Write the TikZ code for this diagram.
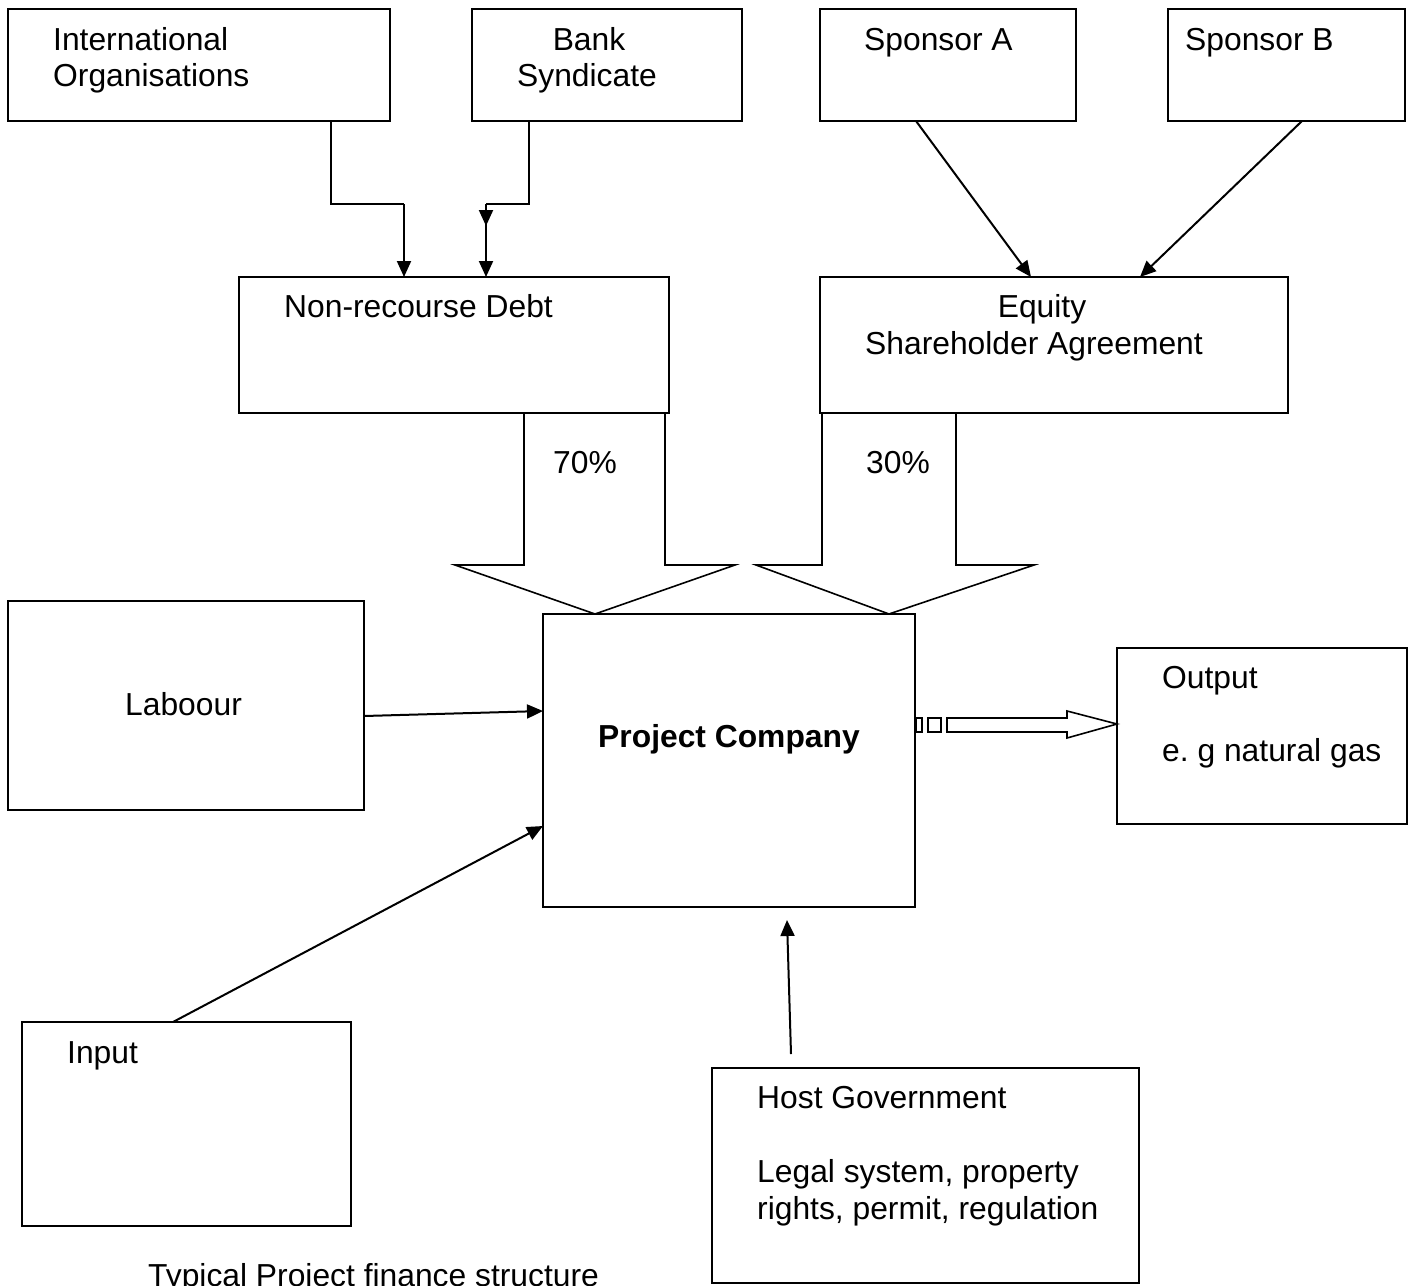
\documentclass[tikz,border=0pt]{standalone}
\usepackage{fontspec}
\setmainfont{Liberation Sans}
\usetikzlibrary{arrows.meta,calc}
\frenchspacing
\begin{document}
\begin{tikzpicture}[x=1pt,y=-1pt,
  box/.style={draw,line width=2pt,rectangle,inner sep=0pt,outer sep=0pt,anchor=north west},
  txt/.style={anchor=base west,inner sep=0pt,font=\fontsize{31.8}{37}\selectfont},
  ctxt/.style={anchor=base,inner sep=0pt,font=\fontsize{31.8}{37}\selectfont},
  arr/.style={line width=2pt,-{Triangle[length=16pt,width=14pt]}},
  blk/.style={line width=1.6pt,line join=miter}]
\useasboundingbox (0,0) rectangle (1413,1285);
\fill[white] (0,0) rectangle (1413,1285);
% boxes
\node[box,minimum width=382pt,minimum height=112pt] (io) at (8,9) {};
\node[box,minimum width=270pt,minimum height=112pt] (bs) at (472,9) {};
\node[box,minimum width=256pt,minimum height=112pt] (sa) at (820,9) {};
\node[box,minimum width=237pt,minimum height=112pt] (sb) at (1168,9) {};
\node[box,minimum width=430pt,minimum height=136pt] (nrd) at (239,277) {};
\node[box,minimum width=468pt,minimum height=136pt] (eq) at (820,277) {};
\node[box,minimum width=372pt,minimum height=293pt] (pc) at (543,614) {};
\node[box,minimum width=356pt,minimum height=209pt] (lab) at (8,601) {};
\node[box,minimum width=290pt,minimum height=176pt] (out) at (1117,648) {};
\node[box,minimum width=329pt,minimum height=204pt] (inp) at (22,1022) {};
\node[box,minimum width=427pt,minimum height=215pt] (host) at (712,1068) {};
% texts
\node[txt] (t1) at (53,50) {International};
\node[txt] (t2) at (53,86) {Organisations};
\node[ctxt] (t3) at (589,50) {Bank};
\node[ctxt] (t4) at (587,86) {Syndicate};
\node[txt] (t5) at (864,50) {Sponsor A};
\node[txt] (t6) at (1185,50) {Sponsor B};
\node[txt] (t7) at (284,317) {Non-recourse Debt};
\node[ctxt] (t8) at (1042,317) {Equity};
\node[ctxt] (t9) at (1034,354) {Shareholder Agreement};
\node[txt] (t10) at (553,473) {70\%};
\node[txt] (t11) at (866,473) {30\%};
\node[ctxt,font=\fontsize{31.8}{37}\selectfont\bfseries] (t12) at (729,747) {Project Company};
\node[txt] (t13) at (125,715) {Laboour};
\node[txt] (t14) at (1162,688) {Output};
\node[txt] (t15) at (1162,761) {e. g natural gas};
\node[txt] (t16) at (67,1063) {Input};
\node[txt] (t17) at (757,1108) {Host Government};
\node[txt] (t18) at (757,1182) {Legal system, property};
\node[txt] (t19) at (757,1219) {rights, permit, regulation};
\node[txt] (cap) at (148,1286) {Typical Project finance structure};
% connectors to debt
\draw[line width=2pt] ([xshift=323pt]io.south west) |- ([xshift=165pt,yshift=73pt]nrd.north west);
\draw[arr] ([xshift=165pt,yshift=73pt]nrd.north west) -- ([xshift=165pt]nrd.north west);
\draw[line width=2pt] ([xshift=57pt]bs.south west) |- ([xshift=247pt,yshift=73pt]nrd.north west);
\draw[arr] ([xshift=247pt,yshift=73pt]nrd.north west) -- ([xshift=247pt,yshift=51pt]nrd.north west);
\draw[arr] ([xshift=247pt,yshift=73pt]nrd.north west) -- ([xshift=247pt]nrd.north west);
% connectors to equity
\draw[arr] ([xshift=96pt]sa.south west) -- ([xshift=211pt]eq.north west);
\draw[arr] ([xshift=134pt]sb.south west) -- ([xshift=320pt]eq.north west);
% block arrows
\draw[blk] (524,413) -- (524,565) -- (455,565) -- (595,614) -- (735,565) -- (665,565) -- (665,413);
\draw[blk] (822,413) -- (822,565) -- (756,565) -- (889,614) -- (1034,565) -- (956,565) -- (956,413);
% other connectors
\draw[arr] ([yshift=-10.5pt]lab.east) -- ([yshift=49.5pt]pc.west);
\draw[arr] ([xshift=151pt]inp.north west) -- ([yshift=-65.5pt]pc.west);
\draw[arr] ([xshift=79pt,yshift=14pt]host.north west) -- ([xshift=244pt,yshift=-13pt]pc.south west);
% striped output arrow
\draw[blk] (916,718) rectangle (922,732);
\draw[blk] (928,718) rectangle (941,732);
\draw[blk] (947,718) -- (1067,718) -- (1067,711) -- (out.west |- 0,724) -- (1067,738) -- (1067,732) -- (947,732) -- cycle;
\end{tikzpicture}
\end{document}
